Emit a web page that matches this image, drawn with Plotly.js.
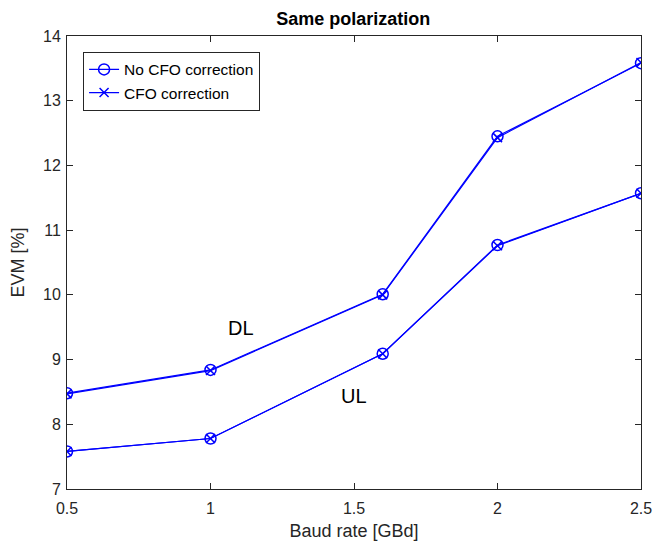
<!DOCTYPE html>
<html>
<head>
<meta charset="utf-8">
<script src="https://cdn.plot.ly/plotly-3.0.1.min.js"></script>
<style>html,body{margin:0;padding:0;background:#fff;}#chart{width:654px;height:544px;}</style>
</head>
<body>
<div id="chart"></div>
<script>
const baudRate = [0.5, 1, 1.6, 2, 2.5];
const dlNoCFO = [8.48, 8.84, 10.01, 12.45, 13.58];
const dlCFO   = [8.47, 8.83, 10.00, 12.43, 13.59];
const ulNoCFO = [7.58, 7.78, 9.09, 10.77, 11.57];
const ulCFO   = [7.58, 7.78, 9.09, 10.76, 11.57];
const xTicks = [0.5, 1, 1.5, 2, 2.5];
const yTicks = [7, 8, 9, 10, 11, 12, 13, 14];

const blue = '#0000ff';
const fam = 'Liberation Sans, Arial, sans-serif';
const ink = '#262626';

const traces = [
  {x: baudRate, y: dlNoCFO, name: 'No CFO correction', mode: 'lines+markers',
   line: {color: blue, width: 1.2}, marker: {symbol: 'circle-open', size: 11, color: blue, line: {width: 1.5, color: blue}}},
  {x: baudRate, y: dlCFO, name: 'CFO correction', mode: 'lines+markers',
   line: {color: blue, width: 1.2}, marker: {symbol: 'x-thin-open', size: 9, color: blue, line: {width: 1.5, color: blue}}},
  {x: baudRate, y: ulNoCFO, name: 'No CFO correction', mode: 'lines+markers', showlegend: false,
   line: {color: blue, width: 1.2}, marker: {symbol: 'circle-open', size: 11, color: blue, line: {width: 1.5, color: blue}}},
  {x: baudRate, y: ulCFO, name: 'CFO correction', mode: 'lines+markers', showlegend: false,
   line: {color: blue, width: 1.2}, marker: {symbol: 'x-thin-open', size: 9, color: blue, line: {width: 1.5, color: blue}}}
];

const axisCommon = {
  showgrid: false, zeroline: false, showline: true, mirror: 'ticks',
  linecolor: ink, linewidth: 1, ticks: 'inside', ticklen: 6, tickcolor: ink,
  tickfont: {family: fam, size: 16, color: ink}
};

const layout = {
  width: 654, height: 544,
  margin: {l: 67, r: 13, t: 36, b: 55},
  paper_bgcolor: '#ffffff', plot_bgcolor: '#ffffff',
  title: {text: '<b>Same polarization</b>', font: {family: fam, size: 18, color: '#000'}, x: 0.54, xanchor: 'center', y: 0.966, yanchor: 'middle'},
  xaxis: Object.assign({}, axisCommon, {range: [0.5, 2.5], tickvals: xTicks, ticktext: xTicks.map(String), ticklabelstandoff: 5,
    title: {text: 'Baud rate [GBd]', font: {family: fam, size: 18, color: ink}, standoff: 8}}),
  yaxis: Object.assign({}, axisCommon, {range: [7, 14], tickvals: yTicks, ticktext: yTicks.map(String), ticklabelstandoff: 2,
    title: {text: 'EVM [%]', font: {family: fam, size: 18, color: ink}, standoff: 13}}),
  legend: {x: 0.028, y: 0.965, xanchor: 'left', yanchor: 'top', bgcolor: '#fff', bordercolor: ink, borderwidth: 1,
    font: {family: fam, size: 15.5, color: '#000'}, tracegroupgap: 0, itemwidth: 30},
  annotations: [
    {x: 1.105, y: 9.49, xref: 'x', yref: 'y', text: 'DL', showarrow: false, font: {family: fam, size: 20, color: '#000'}},
    {x: 1.5, y: 8.44, xref: 'x', yref: 'y', text: 'UL', showarrow: false, font: {family: fam, size: 20, color: '#000'}}
  ],
  showlegend: true
};

Plotly.newPlot('chart', traces, layout, {displayModeBar: false, staticPlot: true});
</script>
</body>
</html>
